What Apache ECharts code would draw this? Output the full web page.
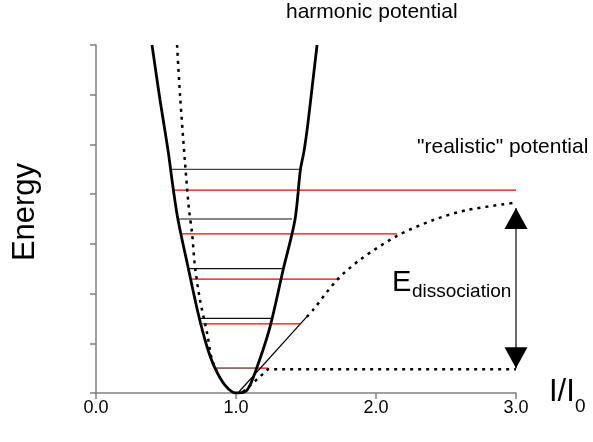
<!DOCTYPE html>
<html>
<head>
<meta charset="utf-8">
<script src="https://cdn.jsdelivr.net/npm/echarts@6/dist/echarts.min.js"></script>
<style>html,body{margin:0;padding:0;background:#fff}#c{width:593px;height:442px}</style>
</head>
<body>
<div id="c"></div>
<script>
// ---- data ----
const xTickLabels = ['0.0', '1.0', '2.0', '3.0'];

// harmonic potential (thick solid parabola)
const harmonicX = [0.40, 0.457, 0.514, 0.55, 0.586, 0.657, 0.729, 0.793, 0.85, 0.921, 1.0,
                   1.079, 1.15, 1.243, 1.336, 1.421, 1.46, 1.485, 1.514, 1.55, 1.579];
const harmonicE = [7.0, 5.90, 4.89, 4.14, 3.48, 2.54, 1.61, 0.93, 0.50, 0.16, 0.0,
                   0.06, 0.52, 1.33, 2.47, 3.48, 4.49, 4.85, 5.43, 6.30, 7.0];

// harmonic energy levels (black)
const harmonicLevelE     = [0.5, 1.5, 2.5, 3.5, 4.5];
const harmonicLevelLeft  = [0.857, 0.743, 0.657, 0.593, 0.543];
const harmonicLevelRight = [1.15, 1.264, 1.343, 1.40, 1.464];

// "realistic" (Morse-like) potential, dotted: repulsive wall and attractive branch
const morseLeftX = [0.579, 0.60, 0.636, 0.664, 0.686, 0.707, 0.743, 0.793, 0.829, 0.864];
const morseLeftE = [7.0, 6.0, 4.63, 3.70, 3.22, 2.54, 1.87, 1.21, 0.66, 0.46];
const morseRightX = [1.505, 1.55, 1.72, 1.886, 2.15, 2.41, 2.65, 3.0];
const morseRightE = [1.53, 1.67, 2.27, 2.68, 3.16, 3.48, 3.68, 3.83];

// thin solid segment of the realistic potential near the minimum
const morseSolidX = [1.02, 1.505];
const morseSolidE = [0.02, 1.53];

// realistic energy levels (red)
const morseLevelE     = [0.50, 1.39, 2.29, 3.20, 4.08];
const morseLevelLeft  = [0.857, 0.738, 0.679, 0.612, 0.557];
const morseLevelRight = [1.23, 1.457, 1.743, 2.148, 3.0];

// dotted reference from the minimum out to the asymptote region
const dissocX = [1.05, 1.23, 3.0];
const dissocE = [0.02, 0.48, 0.48];

// dissociation-energy arrow
const arrowX = 3.0;
const arrowBottomE = 0.50;
const arrowTopE = 3.72;

// ---- chart ----
const FONT = 'Liberation Sans, Arial, sans-serif';
const zip = (xs, ys) => xs.map((x, i) => [x, ys[i]]);
const dotted = { color: '#000', width: 2.5, type: [3, 5], cap: 'butt' };

const series = [];
morseLevelE.forEach((e, i) => {
  series.push({
    type: 'line', silent: true, showSymbol: false, animation: false, z: 2,
    data: [[morseLevelLeft[i], e], [morseLevelRight[i], e]],
    lineStyle: { color: '#ff0000', width: 1.2 }
  });
});
harmonicLevelE.forEach((e, i) => {
  series.push({
    type: 'line', silent: true, showSymbol: false, animation: false, z: 3,
    data: [[harmonicLevelLeft[i], e], [harmonicLevelRight[i], e]],
    lineStyle: { color: i === 0 ? '#777777' : (i === 4 ? '#444444' : '#111111'), width: 1.2 }
  });
});
series.push({
  type: 'line', silent: true, showSymbol: false, animation: false, z: 4,
  data: zip(dissocX, dissocE), lineStyle: dotted
});
series.push({
  type: 'line', silent: true, showSymbol: false, animation: false, z: 4, smooth: 0.3,
  data: zip(morseLeftX, morseLeftE), lineStyle: dotted
});
series.push({
  type: 'line', silent: true, showSymbol: false, animation: false, z: 4, smooth: 0.3,
  data: zip(morseRightX, morseRightE), lineStyle: dotted
});
series.push({
  type: 'line', silent: true, showSymbol: false, animation: false, z: 4,
  data: zip(morseSolidX, morseSolidE),
  lineStyle: { color: '#000', width: 1.2 }
});
series.push({
  type: 'line', silent: true, showSymbol: false, animation: false, z: 5, smooth: 0.3,
  data: zip(harmonicX, harmonicE),
  lineStyle: { color: '#000', width: 2.8 }
});
series.push({
  type: 'line', silent: true, showSymbol: false, animation: false, z: 5, clip: false,
  data: [[arrowX, arrowBottomE], [arrowX, arrowTopE]],
  lineStyle: { color: '#444', width: 1.6 }
});
series.push({
  type: 'scatter', silent: true, animation: false, z: 6, clip: false,
  symbol: 'triangle', symbolSize: [23, 21], symbolOffset: [0, '50%'],
  itemStyle: { color: '#000', opacity: 1 },
  data: [[arrowX, arrowTopE]]
});
series.push({
  type: 'scatter', silent: true, animation: false, z: 6, clip: false,
  symbol: 'path://M0,0 L2,0 L1,2 Z', symbolKeepAspect: false,
  symbolSize: [23, 21], symbolOffset: [0, '-50%'],
  itemStyle: { color: '#000', opacity: 1 },
  data: [[arrowX, arrowBottomE]]
});

const axisColor = '#808080';
const option = {
  animation: false,
  backgroundColor: '#ffffff',
  grid: { left: 96, right: 77, top: 45, bottom: 49, containLabel: false },
  xAxis: {
    type: 'value', min: 0, max: 3, interval: 1,
    axisLine: { show: true, lineStyle: { color: axisColor, width: 1.5 } },
    axisTick: { show: true, length: 6, lineStyle: { color: axisColor, width: 1.5 } },
    splitLine: { show: false },
    axisLabel: {
      margin: 6, color: '#000', fontFamily: FONT, fontSize: 18,
      formatter: (v) => xTickLabels[Math.round(v)]
    }
  },
  yAxis: {
    type: 'value', min: 0, max: 7, interval: 1,
    axisLine: { show: true, onZero: false, lineStyle: { color: axisColor, width: 1.5 } },
    axisTick: { show: true, length: 6, lineStyle: { color: axisColor, width: 1.5 } },
    splitLine: { show: false },
    axisLabel: { show: false }
  },
  series: series,
  graphic: [
    { type: 'text', x: 25, y: 212, rotation: Math.PI / 2, silent: true,
      style: { text: 'Energy', font: '31px ' + FONT, fill: '#000', align: 'center', verticalAlign: 'middle' } },
    { type: 'text', x: 286, y: 23, silent: true,
      style: { text: 'harmonic potential', font: '21px ' + FONT, fill: '#000', align: 'left', verticalAlign: 'bottom' } },
    { type: 'text', x: 417, y: 158, silent: true,
      style: { text: '"realistic" potential', font: '21px ' + FONT, fill: '#000', align: 'left', verticalAlign: 'bottom' } },
    { type: 'text', x: 392, y: 297, silent: true,
      style: { text: 'E', font: '29px ' + FONT, fill: '#000', align: 'left', verticalAlign: 'bottom' } },
    { type: 'text', x: 412, y: 301, silent: true,
      style: { text: 'dissociation', font: '19px ' + FONT, fill: '#000', align: 'left', verticalAlign: 'bottom' } },
    { type: 'text', x: 549, y: 408, silent: true,
      style: { text: 'I/I', font: '31px ' + FONT, fill: '#000', align: 'left', verticalAlign: 'bottom' } },
    { type: 'text', x: 575, y: 416, silent: true,
      style: { text: '0', font: '19px ' + FONT, fill: '#000', align: 'left', verticalAlign: 'bottom' } }
  ]
};

const chart = echarts.init(document.getElementById('c'), null, { renderer: 'canvas' });
chart.setOption(option);
</script>
</body>
</html>
